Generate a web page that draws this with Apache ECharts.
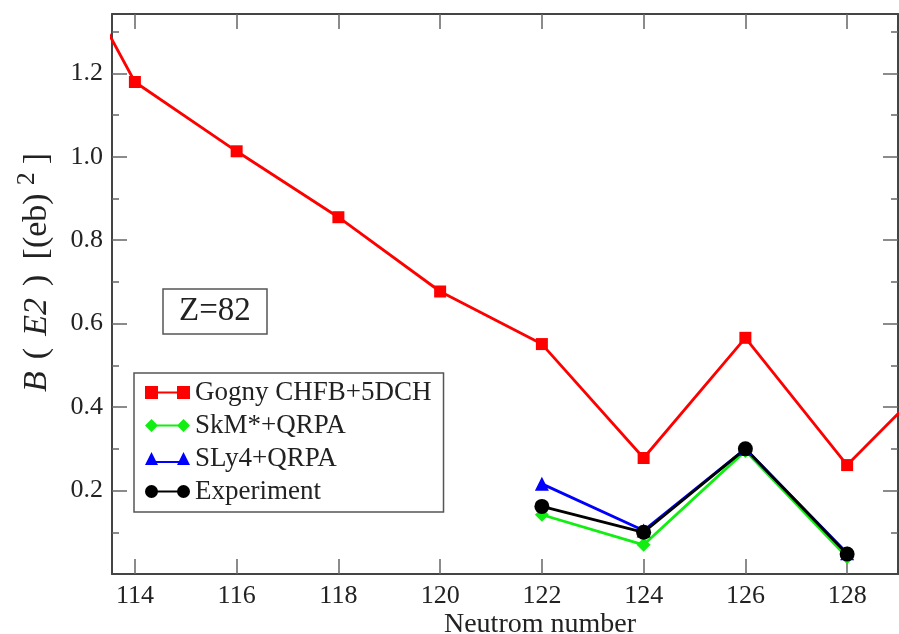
<!DOCTYPE html>
<html>
<head>
<meta charset="utf-8">
<script src="https://cdn.jsdelivr.net/npm/echarts@6/dist/echarts.min.js"></script>
<style>
html,body{margin:0;padding:0;background:#fff;}
#chart{width:899px;height:634px;}
</style>
</head>
<body>
<div id="chart"></div>
<script>
// ---- data ----
const neutronGogny = [112, 114, 116, 118, 120, 122, 124, 126, 128, 130];
const gogny        = [1.63, 1.179, 1.013, 0.855, 0.677, 0.551, 0.278, 0.566, 0.261, 0.507];
const neutronQRPA  = [122, 124, 126, 128];
const skm          = [0.142, 0.070, 0.295, 0.040];
const sly4         = [0.216, 0.104, 0.300, 0.050];
const experiment   = [0.162, 0.100, 0.300, 0.048];
const xTicks = [114, 116, 118, 120, 122, 124, 126, 128];
const yMajorTicks = [0.2, 0.4, 0.6, 0.8, 1.0, 1.2];
const yMinorTicks = [0.1, 0.3, 0.5, 0.7, 0.9, 1.1, 1.3];
const seriesNames = ['Gogny CHFB+5DCH', 'SkM*+QRPA', 'SLy4+QRPA', 'Experiment'];

const FONT = 'Liberation Serif';
const AX = '#444';
const TK = '#666';
const pairs = (xs, ys) => xs.map((x, i) => [x, ys[i]]);

const X_MIN = 113.55, X_MAX = 129, Y_MIN = 0, Y_MAX = 1.342;

const chart = echarts.init(document.getElementById('chart'), null, {renderer: 'canvas'});

const legendIcons = {
  'Gogny CHFB+5DCH': 'path://M0,0h13v13h-13z M13,5.5h19v2h-19z M32,0h13v13h-13z',
  'SkM*+QRPA': 'path://M0,6.5L6.5,0L13,6.5L6.5,13z M12,5.5h21v2h-21z M32,6.5L38.5,0L45,6.5L38.5,13z',
  'SLy4+QRPA': 'path://M0,13L6.5,0L13,13z M11,9h23v2h-23z M32,13L38.5,0L45,13z',
  'Experiment': 'path://M0,6.5A6.5,6.5,0,1,1,13,6.5A6.5,6.5,0,1,1,0,6.5z M12,5.5h21v2h-21z M32,6.5A6.5,6.5,0,1,1,45,6.5A6.5,6.5,0,1,1,32,6.5z'
};

const baseX = {type: 'value', min: X_MIN, max: X_MAX, splitLine: {show: false}};
const baseY = {type: 'value', min: Y_MIN, max: Y_MAX, splitLine: {show: false}};

const option = {
  animation: false,
  backgroundColor: '#fff',
  title: {
    text: 'Z=82',
    left: 163, top: 289,
    borderColor: '#555', borderWidth: 1.5,
    padding: [6, 16, 6, 16],
    textStyle: {fontFamily: FONT, fontSize: 33, fontWeight: 'normal', color: '#222'}
  },
  legend: {
    orient: 'vertical',
    left: 134, top: 373,
    backgroundColor: '#fff',
    borderColor: '#555', borderWidth: 1.5,
    padding: [6, 12, 7, 11],
    itemWidth: 45, itemHeight: 13,
    itemGap: 6, itemTextGap: 8,
    textStyle: {fontFamily: FONT, fontSize: 27, lineHeight: 26, color: '#222'},
    data: seriesNames.map(n => ({name: n, icon: legendIcons[n]}))
  },
  grid: {left: 112, right: 1, top: 14, bottom: 60, containLabel: false, outerBoundsMode: 'none'},
  xAxis: [
    Object.assign({}, baseX, {
      position: 'bottom',
      name: 'Neutrom number',
      nameLocation: 'middle',
      nameGap: 37,
      nameMoveOverlap: false,
      nameTextStyle: {fontFamily: FONT, fontSize: 28, color: '#222', padding: [0, 0, 0, 70]},
      axisLine: {show: true, onZero: false, lineStyle: {color: AX, width: 2}},
      axisTick: {show: true, inside: true, length: 15, customValues: xTicks, lineStyle: {color: TK, width: 1.5}},
      axisLabel: {show: true, margin: 9, customValues: xTicks, fontFamily: FONT, fontSize: 26, color: '#222',
        formatter: v => String(Math.round(v))}
    }),
    Object.assign({}, baseX, {
      position: 'top',
      axisLine: {show: true, onZero: false, lineStyle: {color: AX, width: 2}},
      axisTick: {show: true, inside: true, length: 15, customValues: xTicks, lineStyle: {color: TK, width: 1.5}},
      axisLabel: {show: false}
    })
  ],
  yAxis: [
    Object.assign({}, baseY, {
      position: 'left',
      name: '{i|B}{n|(}{i|E2}{n|)} {n|[(eb)}{s|2}{n|]}',
      nameLocation: 'middle',
      nameRotate: 90,
      nameGap: 52,
      nameMoveOverlap: false,
      nameTextStyle: {
        color: '#222', padding: [0, 0, 0, 43],
        rich: {
          i: {fontFamily: FONT, fontStyle: 'italic', fontSize: 34, color: '#222', padding: [0, 6]},
          n: {fontFamily: FONT, fontSize: 34, color: '#222', padding: [0, 6]},
          s: {fontFamily: FONT, fontSize: 26, color: '#222', verticalAlign: 'top', padding: [0, 2, 20, 2]}
        }
      },
      axisLine: {show: true, onZero: false, lineStyle: {color: AX, width: 2}},
      axisTick: {show: true, inside: true, length: 15, customValues: yMajorTicks, lineStyle: {color: TK, width: 1.5}},
      axisLabel: {show: true, margin: 9, customValues: yMajorTicks, fontFamily: FONT, fontSize: 26, color: '#222',
        formatter: v => v.toFixed(1)}
    }),
    Object.assign({}, baseY, {
      position: 'left',
      axisLine: {show: false},
      axisTick: {show: true, inside: true, length: 7, customValues: yMinorTicks, lineStyle: {color: TK, width: 1.5}},
      axisLabel: {show: false}
    }),
    Object.assign({}, baseY, {
      position: 'right',
      axisLine: {show: true, onZero: false, lineStyle: {color: AX, width: 2}},
      axisTick: {show: true, inside: true, length: 15, customValues: yMajorTicks, lineStyle: {color: TK, width: 1.5}},
      axisLabel: {show: false}
    }),
    Object.assign({}, baseY, {
      position: 'right',
      axisLine: {show: false},
      axisTick: {show: true, inside: true, length: 7, customValues: yMinorTicks, lineStyle: {color: TK, width: 1.5}},
      axisLabel: {show: false}
    })
  ],
  series: [
    {
      name: seriesNames[0], type: 'line', xAxisIndex: 0, yAxisIndex: 0,
      data: pairs(neutronGogny, gogny),
      symbol: 'rect', symbolSize: 12, clip: true,
      itemStyle: {color: '#ff0000'},
      lineStyle: {color: '#ff0000', width: 2.8}
    },
    {
      name: seriesNames[1], type: 'line', xAxisIndex: 0, yAxisIndex: 0,
      data: pairs(neutronQRPA, skm),
      symbol: 'diamond', symbolSize: 14,
      itemStyle: {color: '#11ee11'},
      lineStyle: {color: '#11ee11', width: 2.8}
    },
    {
      name: seriesNames[2], type: 'line', xAxisIndex: 0, yAxisIndex: 0,
      data: pairs(neutronQRPA, sly4),
      symbol: 'triangle', symbolSize: 14,
      itemStyle: {color: '#0000ff'},
      lineStyle: {color: '#0000ff', width: 2.8}
    },
    {
      name: seriesNames[3], type: 'line', xAxisIndex: 0, yAxisIndex: 0,
      data: pairs(neutronQRPA, experiment),
      symbol: 'circle', symbolSize: 15,
      itemStyle: {color: '#000000'},
      lineStyle: {color: '#000000', width: 2.8}
    }
  ]
};
chart.setOption(option);
</script>
</body>
</html>
